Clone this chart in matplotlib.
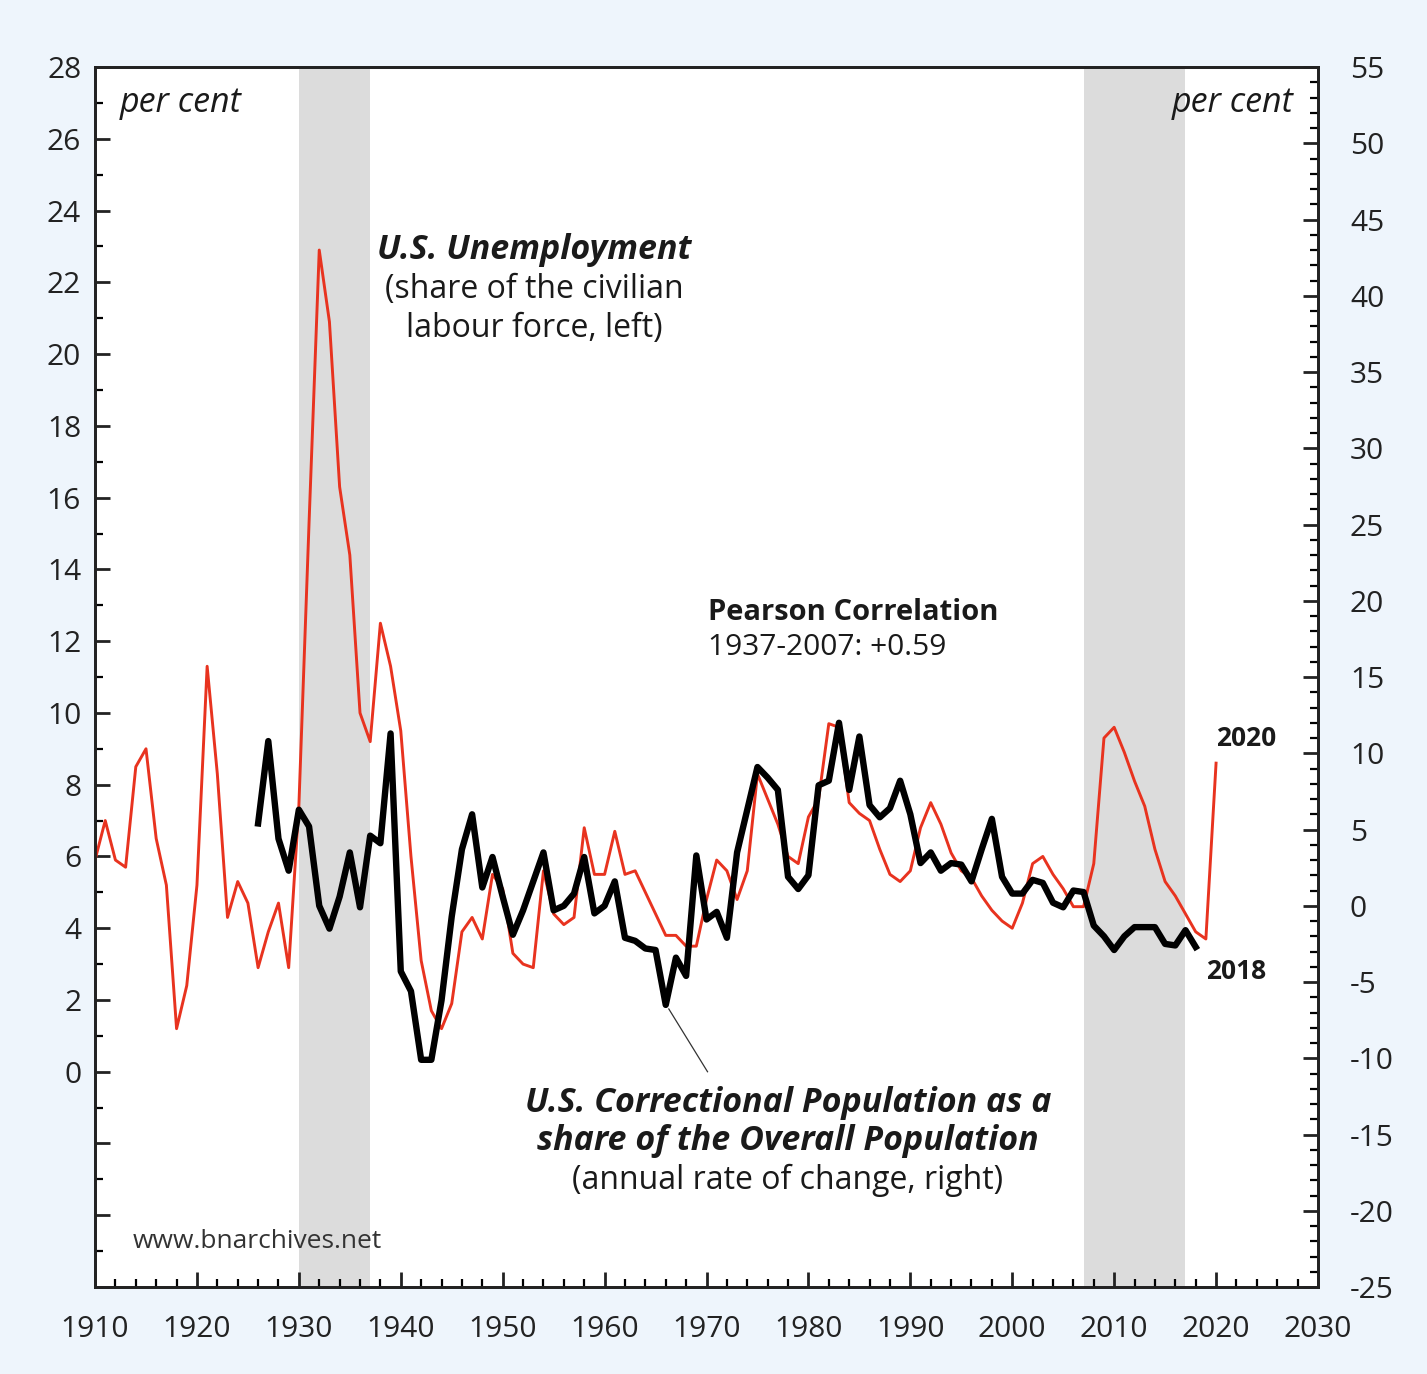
import matplotlib
matplotlib.use("Agg")
import matplotlib.pyplot as plt
from matplotlib.ticker import MultipleLocator, FuncFormatter
import numpy as np

plt.rcParams['font.family'] = ['Open Sans', 'DejaVu Sans']
plt.rcParams['axes.unicode_minus'] = False

# US unemployment, share of civilian labour force (left axis)
unemp_years = list(range(1910, 2021))
unemp = [5.9, 7.0, 5.9, 5.7, 8.5, 9.0, 6.5, 5.2, 1.2, 2.4,
         5.2, 11.3, 8.3, 4.3, 5.3, 4.7, 2.9, 3.9, 4.7, 2.9,
         7.4, 15.3, 22.9, 20.9, 16.3, 14.4, 10.0, 9.2, 12.5, 11.3,
         9.5, 6.0, 3.1, 1.7, 1.2, 1.9, 3.9, 4.3, 3.7, 5.5,
         5.1, 3.3, 3.0, 2.9, 5.6, 4.4, 4.1, 4.3, 6.8, 5.5,
         5.5, 6.7, 5.5, 5.6, 5.0, 4.4, 3.8, 3.8, 3.5, 3.5,
         4.8, 5.9, 5.6, 4.8, 5.6, 8.3, 7.6, 6.9, 6.0, 5.8,
         7.1, 7.6, 9.7, 9.6, 7.5, 7.2, 7.0, 6.2, 5.5, 5.3,
         5.6, 6.8, 7.5, 6.9, 6.1, 5.6, 5.4, 4.9, 4.5, 4.2,
         4.0, 4.7, 5.8, 6.0, 5.5, 5.1, 4.6, 4.6, 5.8, 9.3,
         9.6, 8.9, 8.1, 7.4, 6.2, 5.3, 4.9, 4.4, 3.9, 3.7,
         8.6]

# correctional population as share of population, annual % change (right axis)
corr_years = list(range(1926, 2019))
corr = [5.4, 10.8, 4.4, 2.3,
        6.3, 5.2, 0.0, -1.5, 0.6, 3.5, -0.1, 4.6, 4.1, 11.3,
        -4.3, -5.6, -10.1, -10.1, -6.2, -0.7, 3.7, 6.0, 1.2, 3.2,
        0.6, -1.9, -0.3, 1.6, 3.5, -0.3, 0.0, 0.8, 3.2, -0.5,
        0.0, 1.6, -2.1, -2.3, -2.8, -2.9, -6.5, -3.4, -4.6, 3.3,
        -0.9, -0.4, -2.1, 3.5, 6.3, 9.1, 8.4, 7.6, 1.9, 1.1,
        2.0, 7.9, 8.2, 12.0, 7.6, 11.1, 6.6, 5.8, 6.4, 8.2,
        6.0, 2.8, 3.5, 2.3, 2.8, 2.7, 1.6, 3.7, 5.7, 1.9,
        0.8, 0.8, 1.7, 1.5, 0.2, -0.1, 1.0, 0.9, -1.3, -2.0,
        -2.9, -2.0, -1.4, -1.4, -1.4, -2.5, -2.6, -1.6, -2.7]

shaded = [(1930, 1937), (2007, 2017)]

fig = plt.figure(figsize=(14.27, 13.74), dpi=100, facecolor='#eef5fc')
ax = fig.add_axes([0.0666, 0.0633, 0.857, 0.8879])
ax.set_facecolor('white')
ax2 = ax.twinx()

for a, b in shaded:
    ax.axvspan(a, b, color='#dcdcdc', lw=0, zorder=0)

ax.plot(unemp_years, unemp, color='#e8331f', lw=2.1, zorder=3)
ax2.plot(corr_years, corr, color='black', lw=4.6, zorder=4)

ax.set_xlim(1910, 2030)
ax.set_ylim(-6, 28)
ax2.set_ylim(-25, 55)

# ticks
ax.xaxis.set_major_locator(MultipleLocator(10))
ax.xaxis.set_minor_locator(MultipleLocator(2))
ax.yaxis.set_major_locator(MultipleLocator(2))
ax.yaxis.set_minor_locator(MultipleLocator(1))
ax.yaxis.set_major_formatter(FuncFormatter(lambda v, p: '' if v < 0 else f'{v:.0f}'))
ax2.yaxis.set_major_locator(MultipleLocator(5))
ax2.yaxis.set_minor_locator(MultipleLocator(1))

ax.tick_params(axis='x', which='major', direction='in', length=11, width=2, labelsize=21.5, pad=20, colors='#222222')
ax.tick_params(axis='x', which='minor', direction='in', length=6, width=1.6)
ax.tick_params(axis='y', which='major', direction='in', length=11, width=2, labelsize=21.5, pad=10, colors='#222222')
ax.tick_params(axis='y', which='minor', direction='in', length=6, width=1.6)
ax.tick_params(axis='x', which='both', top=False)
ax2.tick_params(axis='y', which='major', direction='in', length=11, width=2, labelsize=21.5, pad=23, colors='#222222')
ax2.tick_params(axis='y', which='minor', direction='in', length=6, width=1.6)

for a in (ax, ax2):
    for s in a.spines.values():
        s.set_linewidth(2)
        s.set_color('#222222')

# annotations
txt = '#1a1a1a'
ax.text(1912.4, 27.0, 'per cent', fontsize=24.5, style='italic', color=txt, va='center', ha='left')
ax.text(2027.6, 27.0, 'per cent', fontsize=24.5, style='italic', color=txt, va='center', ha='right')

ax.text(1953.1, 22.9, 'U.S. Unemployment', fontsize=24.5, style='italic', weight='bold',
        color=txt, ha='center', va='center')
ax.text(1953.1, 21.8, '(share of the civilian', fontsize=23, color=txt, ha='center', va='center')
ax.text(1953.1, 20.72, 'labour force, left)', fontsize=23, color=txt, ha='center', va='center')

ax.text(1970.15, 12.8, 'Pearson Correlation', fontsize=21, weight='bold', color=txt, ha='left', va='center')
ax.text(1970.15, 11.82, '1937-2007: +0.59', fontsize=21.5, color=txt, ha='left', va='center')

ax.text(2020.0, 9.3, '2020', fontsize=19, weight='bold', color=txt, ha='left', va='center')
ax.text(2019.0, 2.8, '2018', fontsize=19, weight='bold', color=txt, ha='left', va='center')

ax.text(1978.0, -0.86, 'U.S. Correctional Population as a', fontsize=24.5, style='italic',
        weight='bold', color=txt, ha='center', va='center')
ax.text(1978.0, -1.92, 'share of the Overall Population', fontsize=24.5, style='italic',
        weight='bold', color=txt, ha='center', va='center')
ax.text(1978.0, -3.04, '(annual rate of change, right)', fontsize=23, color=txt,
        ha='center', va='center')

ax.text(1913.7, -4.74, 'www.bnarchives.net', fontsize=19, color='#333333', ha='left', va='center')

# pointer from label to black line
ax.plot([1966.3, 1970.1], [1.75, 0.0], color='#333333', lw=0.9, zorder=2)

fig.savefig('out.png', dpi=100, facecolor=fig.get_facecolor())
